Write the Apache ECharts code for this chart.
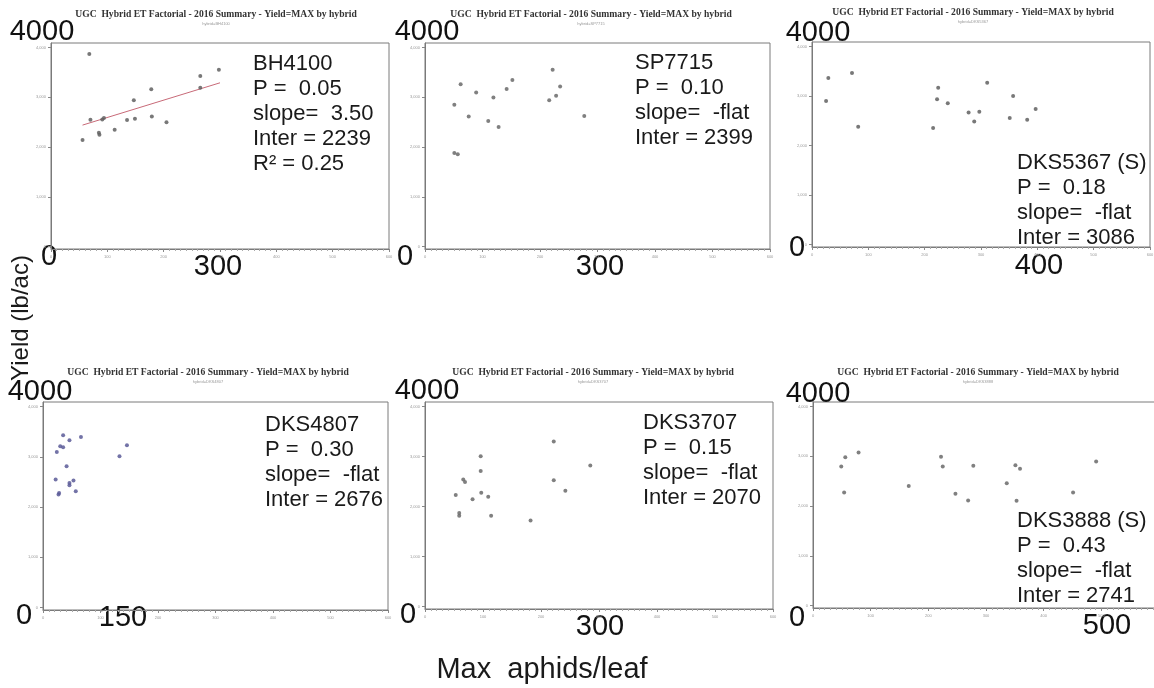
<!DOCTYPE html>
<html><head><meta charset="utf-8">
<script src="https://cdn.jsdelivr.net/npm/echarts@6/dist/echarts.min.js"></script>
<style>html,body{margin:0;padding:0;background:#fff}#c{width:1154px;height:688px}</style>
</head><body><div id="c"></div><script>
// ---- data ----
const hybrids = ['BH4100', 'SP7715', 'DKS5367 (S)', 'DKS4807', 'DKS3707', 'DKS3888 (S)'];
const pValues = ['0.05', '0.10', '0.18', '0.30', '0.15', '0.43'];
const slopes = ['3.50', '-flat', '-flat', '-flat', '-flat', '-flat'];
const intercepts = ['2239', '2399', '3086', '2676', '2070', '2741'];
const rSquaredBH4100 = '0.25';
const xMarkLabels = ['300', '300', '400', '150', '300', '500'];
const yTopLabel = '4000';
const yBottomLabel = '0';
const xTicks = [0, 100, 200, 300, 400, 500, 600];
const yTicks = [0, 1000, 2000, 3000, 4000];

const aphidsBH4100 = [68, 56, 70, 85, 86, 91, 94, 113, 135, 147, 149, 178, 179, 205, 265, 265, 298];
const yieldBH4100  = [3870, 2140, 2550, 2285, 2245, 2555, 2585, 2345, 2545, 2940, 2570, 3160, 2615, 2495, 3425, 3190, 3550];
const fitLineBH4100 = [[56, 2440], [300, 3290]];

const aphidsSP7715 = [51, 62, 76, 89, 51, 57, 110, 119, 128, 142, 152, 216, 222, 228, 235, 277];
const yieldSP7715  = [2850, 3260, 2615, 3095, 1880, 1855, 2520, 2995, 2400, 3165, 3345, 2940, 3550, 3030, 3215, 2625];

const aphidsDKS5367 = [29, 25, 71, 82, 215, 222, 224, 241, 278, 288, 297, 311, 351, 357, 382, 397];
const yieldDKS5367  = [3365, 2900, 3465, 2380, 2355, 2935, 3165, 2855, 2665, 2485, 2680, 3265, 2555, 3000, 2520, 2735];

const aphidsDKS4807 = [35, 46, 66, 30, 35, 24, 41, 22, 46, 46, 53, 28, 27, 57, 146, 133];
const yieldDKS4807  = [3430, 3330, 3395, 3210, 3190, 3095, 2810, 2545, 2480, 2435, 2530, 2280, 2250, 2315, 3230, 3010];

const aphidsDKS3707 = [53, 59, 59, 66, 69, 82, 96, 96, 97, 109, 114, 182, 222, 222, 242, 285];
const yieldDKS3707  = [2230, 1870, 1815, 2540, 2490, 2145, 3005, 2710, 2275, 2195, 1815, 1720, 3300, 2525, 2315, 2820];

const aphidsDKS3888 = [49, 56, 54, 79, 166, 222, 225, 247, 269, 278, 336, 351, 359, 353, 451, 491];
const yieldDKS3888  = [2795, 2980, 2270, 3075, 2400, 2990, 2795, 2245, 2110, 2810, 2455, 2820, 2750, 2105, 2270, 2895];

const panelTitle = 'UGC  Hybrid ET Factorial - 2016 Summary - Yield=MAX by hybrid';
const xAxisTitle = 'Max  aphids/leaf';
const yAxisTitle = 'Yield (lb/ac)';

// ---- layout ----
const panelX = [aphidsBH4100, aphidsSP7715, aphidsDKS5367, aphidsDKS4807, aphidsDKS3707, aphidsDKS3888];
const panelY = [yieldBH4100, yieldSP7715, yieldDKS5367, yieldDKS4807, yieldDKS3707, yieldDKS3888];
const boxes = [
  {left: 51, top: 43, width: 338, height: 206},
  {left: 425, top: 43, width: 345, height: 206},
  {left: 812, top: 42, width: 338, height: 205},
  {left: 43, top: 402, width: 345, height: 208},
  {left: 425, top: 402, width: 348, height: 207},
  {left: 813, top: 402, width: 346, height: 206}
];
const titlePos = [[216, 15], [591, 15], [973, 13], [208, 373], [593, 373], [978, 373]];
const topLabelPos = [[42, 32], [427, 32], [818, 33], [40, 392], [427, 391], [818, 394]];
const zeroLabelPos = [[49, 257], [405, 257], [797, 248], [24, 616], [408, 615], [797, 618]];
const xMarkPos = [[218, 267], [600, 267], [1039, 266], [123, 618], [600, 627], [1107, 626]];
const notePos = [[253, 51], [635, 50], [1017, 150], [265, 412], [643, 410], [1017, 508]];
const pointColors = ['#606060', '#6a6a6a', '#606060', '#5a5a98', '#6a6a6a', '#6a6a6a'];

const FONT = '"Liberation Sans", Arial, sans-serif';

const grids = [], xAxes = [], yAxes = [], series = [], graphics = [];
boxes.forEach((b, i) => {
  grids.push(Object.assign({show: true, borderColor: '#7a7a7a', borderWidth: 1, backgroundColor: 'transparent',
    containLabel: false, outerBoundsMode: 'none'}, b));
  xAxes.push({
    type: 'value', gridIndex: i, min: xTicks[0], max: xTicks[xTicks.length - 1], interval: 100,
    axisLine: {show: true, onZero: false, lineStyle: {color: '#7a7a7a', width: 1}},
    axisTick: {show: true, length: 3, lineStyle: {color: '#888'}},
    minorTick: {show: true, splitNumber: 10, length: 2, lineStyle: {color: '#aaa'}},
    splitLine: {show: false},
    axisLabel: {fontSize: 4, color: '#999', margin: 6, fontFamily: FONT}
  });
  yAxes.push({
    type: 'value', gridIndex: i, min: -50, max: 4090,
    axisLine: {show: true, onZero: false, lineStyle: {color: '#7a7a7a', width: 1}},
    axisTick: {show: true, length: 3, customValues: yTicks, lineStyle: {color: '#888'}},
    axisLabel: {fontSize: 4, color: '#999', margin: 5, customValues: yTicks, fontFamily: FONT},
    splitLine: {show: false}
  });
  series.push({
    type: 'scatter', xAxisIndex: i, yAxisIndex: i,
    data: panelX[i].map((x, k) => [x, panelY[i][k]]),
    symbol: 'circle', symbolSize: 4,
    itemStyle: {color: pointColors[i], opacity: 0.85},
    silent: true, animation: false
  });

  // panel titles
  graphics.push({type: 'text', x: titlePos[i][0], y: titlePos[i][1],
    style: {text: panelTitle, fontSize: 9.6, fontWeight: 'bold', fontFamily: '"Liberation Serif", "Times New Roman", serif',
      fill: '#333', align: 'center', verticalAlign: 'middle'}});
  graphics.push({type: 'text', x: titlePos[i][0], y: titlePos[i][1] + 9,
    style: {text: 'hybrid=' + hybrids[i].replace(' (S)', ''), fontSize: 4, fontFamily: FONT,
      fill: '#999', align: 'center', verticalAlign: 'middle'}});
  // big overlaid labels
  graphics.push({type: 'text', x: topLabelPos[i][0], y: topLabelPos[i][1],
    style: {text: yTopLabel, fontSize: 29, fontFamily: FONT, fill: '#111', align: 'center', verticalAlign: 'middle'}});
  graphics.push({type: 'text', x: zeroLabelPos[i][0], y: zeroLabelPos[i][1],
    style: {text: yBottomLabel, fontSize: 29, fontFamily: FONT, fill: '#111', align: 'center', verticalAlign: 'middle'}});
  graphics.push({type: 'text', x: xMarkPos[i][0], y: xMarkPos[i][1],
    style: {text: xMarkLabels[i], fontSize: 29, fontFamily: FONT, fill: '#111', align: 'center', verticalAlign: 'middle'}});
  // stats note
  const lines = [hybrids[i], 'P =  ' + pValues[i], 'slope=  ' + slopes[i], 'Inter = ' + intercepts[i]];
  if (i === 0) lines.push('R\u00B2 = ' + rSquaredBH4100);
  graphics.push({type: 'text', x: notePos[i][0], y: notePos[i][1],
    style: {text: lines.join('\n'), fontSize: 22, lineHeight: 25, fontFamily: FONT, fill: '#1a1a1a',
      align: 'left', verticalAlign: 'top'}});
});

series.push({
  type: 'line', xAxisIndex: 0, yAxisIndex: 0, data: fitLineBH4100,
  symbol: 'none', lineStyle: {color: '#c86a78', width: 1}, silent: true, animation: false, z: 1
});

graphics.push({type: 'text', x: 21, y: 318, rotation: Math.PI / 2,
  style: {text: yAxisTitle, fontSize: 24, fontFamily: FONT, fill: '#1a1a1a', align: 'center', verticalAlign: 'middle'}});
graphics.push({type: 'text', x: 542, y: 670,
  style: {text: xAxisTitle, fontSize: 29, fontFamily: FONT, fill: '#1a1a1a', align: 'center', verticalAlign: 'middle'}});

const chart = echarts.init(document.getElementById('c'), null, {renderer: 'canvas'});
chart.setOption({
  backgroundColor: '#fff',
  animation: false,
  grid: grids, xAxis: xAxes, yAxis: yAxes, series: series,
  graphic: graphics
});
</script></body></html>
